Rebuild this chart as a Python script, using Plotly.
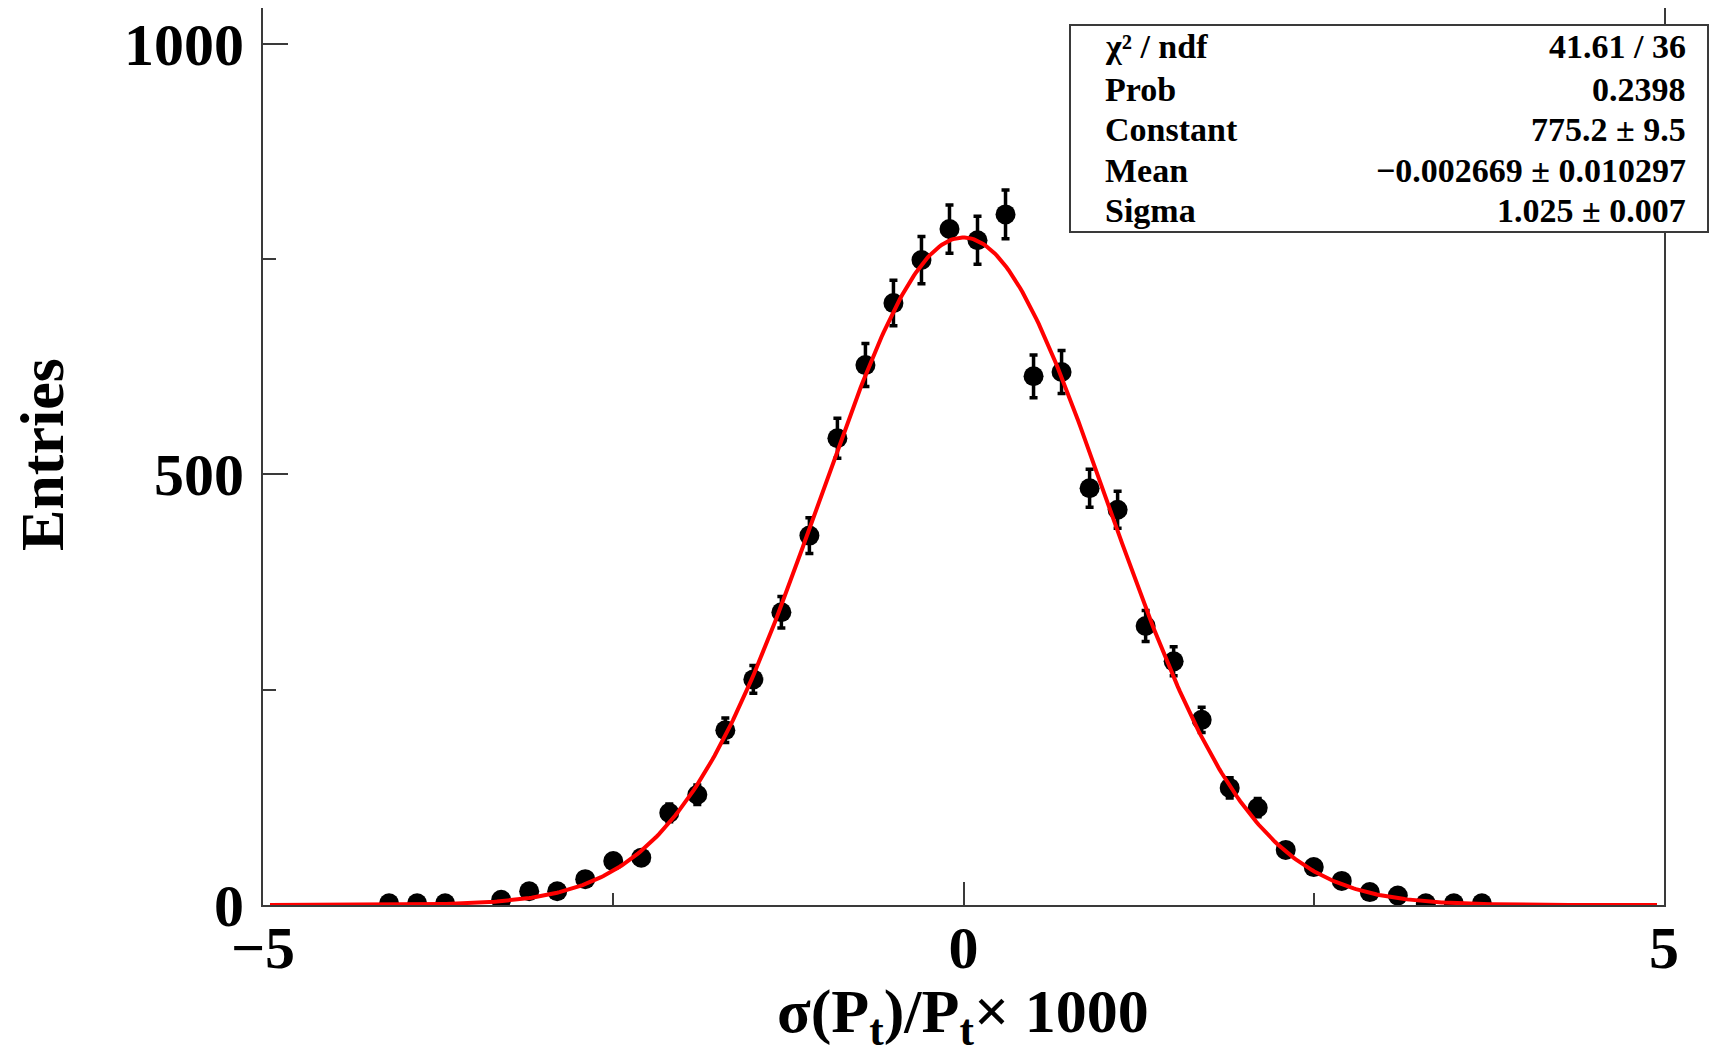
import plotly.graph_objects as go
import numpy as np

# ---- data ----
bin_centers = [-4.1, -3.9, -3.7, -3.3, -3.1, -2.9, -2.7, -2.5, -2.3, -2.1,
               -1.9, -1.7, -1.5, -1.3, -1.1, -0.9, -0.7, -0.5, -0.3, -0.1,
               0.1, 0.3, 0.5, 0.7, 0.9, 1.1, 1.3, 1.5, 1.7, 1.9,
               2.1, 2.3, 2.5, 2.7, 2.9, 3.1, 3.3, 3.5, 3.7]
entries = [2, 2, 2, 6, 16, 16, 30, 51, 55, 107,
           128, 203, 262, 340, 429, 542, 627, 699, 749, 785,
           772, 802, 614, 619, 484, 459, 324, 283, 215, 136,
           113, 64, 44, 28, 15, 11, 2, 2, 2]
errors = [1.4, 1.4, 1.4, 2.4, 4.0, 4.0, 5.5, 7.1, 7.4, 10.3,
          11.3, 14.2, 16.2, 18.4, 20.7, 23.3, 25.0, 26.4, 27.4, 28.0,
          27.8, 28.3, 24.8, 24.9, 22.0, 21.4, 18.0, 16.8, 14.7, 11.7,
          10.6, 8.0, 6.6, 5.3, 3.9, 3.3, 1.4, 1.4, 1.4]

# Gaussian fit parameters (as printed in the stats box)
fit_constant = 775.2
fit_mean = -0.002669
fit_sigma = 1.025
fit_range = [-4.95, 4.95]

stat_labels = ["χ² / ndf", "Prob", "Constant", "Mean", "Sigma"]
stat_values = ["41.61 / 36", "0.2398", "775.2 ± 9.5",
               "−0.002669 ± 0.010297", "1.025 ± 0.007"]

x_ticks = [-5, 0, 5]
x_ticklabels = ["−5", "0", "5"]
y_ticks = [0, 500, 1000]
y_ticklabels = ["0", "500", "1000"]

# ---- figure ----
FONT = "Liberation Serif"
OFF = 8  # page body margin in the browser
W, H = 1719 - OFF, 1064 - OFF
ML, MT = 263 - OFF, 0
PW, PH = 1401, 897
MR = W - ML - PW
MB = H - MT - PH

fx = np.linspace(fit_range[0], fit_range[1], 600)
fy = fit_constant * np.exp(-0.5 * ((fx - fit_mean) / fit_sigma) ** 2)

fig = go.Figure()
fig.add_trace(go.Scatter(
    x=bin_centers, y=entries, mode="markers",
    marker=dict(color="black", size=20),
    error_y=dict(type="data", array=errors, visible=True,
                 color="black", thickness=3.5, width=4),
    showlegend=False, hoverinfo="x+y"))
fig.add_trace(go.Scatter(
    x=fx, y=fy, mode="lines", line=dict(color="#ff0000", width=4),
    showlegend=False, hoverinfo="skip"))

axis_common = dict(
    showline=True, linecolor="#3a3a3a", linewidth=2, mirror=True,
    showgrid=False, zeroline=False, ticks="inside", tickcolor="#3a3a3a",
    tickwidth=2, automargin=False,
    tickfont=dict(family=FONT, size=60, color="black", weight="bold"),
)

fig.update_layout(
    width=W, height=H,
    margin=dict(l=ML, r=MR, t=MT, b=MB, autoexpand=False),
    paper_bgcolor="white", plot_bgcolor="white",
    xaxis=dict(range=[-5, 5], tickvals=x_ticks, ticktext=x_ticklabels,
               ticklen=23, ticklabelstandoff=-11,
               minor=dict(tickvals=[-2.5, 2.5], ticks="inside", ticklen=12,
                          tickcolor="#3a3a3a", tickwidth=2),
               **axis_common),
    yaxis=dict(range=[0, 1041.7], tickvals=y_ticks, ticktext=y_ticklabels,
               ticklen=25, ticklabelstandoff=5,
               minor=dict(tickvals=[250, 750], ticks="inside", ticklen=13,
                          tickcolor="#3a3a3a", tickwidth=2),
               **axis_common),
    showlegend=False,
)

# helpers: page pixel -> paper coordinate
def px_x(p):
    return (p - OFF - ML) / PW

def px_y(p):
    return (H - MB - (p - OFF)) / PH

# axis titles
fig.add_annotation(
    text="σ(P<sub>t</sub>)/P<sub>t</sub>× 1000", xref="paper", yref="paper",
    x=px_x(963), y=px_y(1016), xanchor="center", yanchor="middle",
    showarrow=False, font=dict(family=FONT, size=62, color="black", weight="bold"))
fig.add_annotation(
    text="Entries", xref="paper", yref="paper",
    x=px_x(42), y=px_y(455), xanchor="center", yanchor="middle", textangle=-90,
    showarrow=False, font=dict(family=FONT, size=62, color="black", weight="bold"))

# stats box
fig.add_shape(type="rect", xref="paper", yref="paper",
              x0=px_x(1070), x1=px_x(1708), y0=px_y(232), y1=px_y(25),
              line=dict(color="#3a3a3a", width=2), fillcolor="white", layer="above")
row_y = [47, 89, 130, 170, 210]
for lab, val, yy in zip(stat_labels, stat_values, row_y):
    fig.add_annotation(text=lab, xref="paper", yref="paper",
                       x=px_x(1103), y=px_y(yy), xanchor="left", yanchor="middle",
                       showarrow=False,
                       font=dict(family=FONT, size=34, color="black", weight="bold"))
    fig.add_annotation(text=val, xref="paper", yref="paper",
                       x=px_x(1688), y=px_y(yy), xanchor="right", yanchor="middle",
                       showarrow=False,
                       font=dict(family=FONT, size=34, color="black", weight="bold"))

fig.write_html("out.html")
